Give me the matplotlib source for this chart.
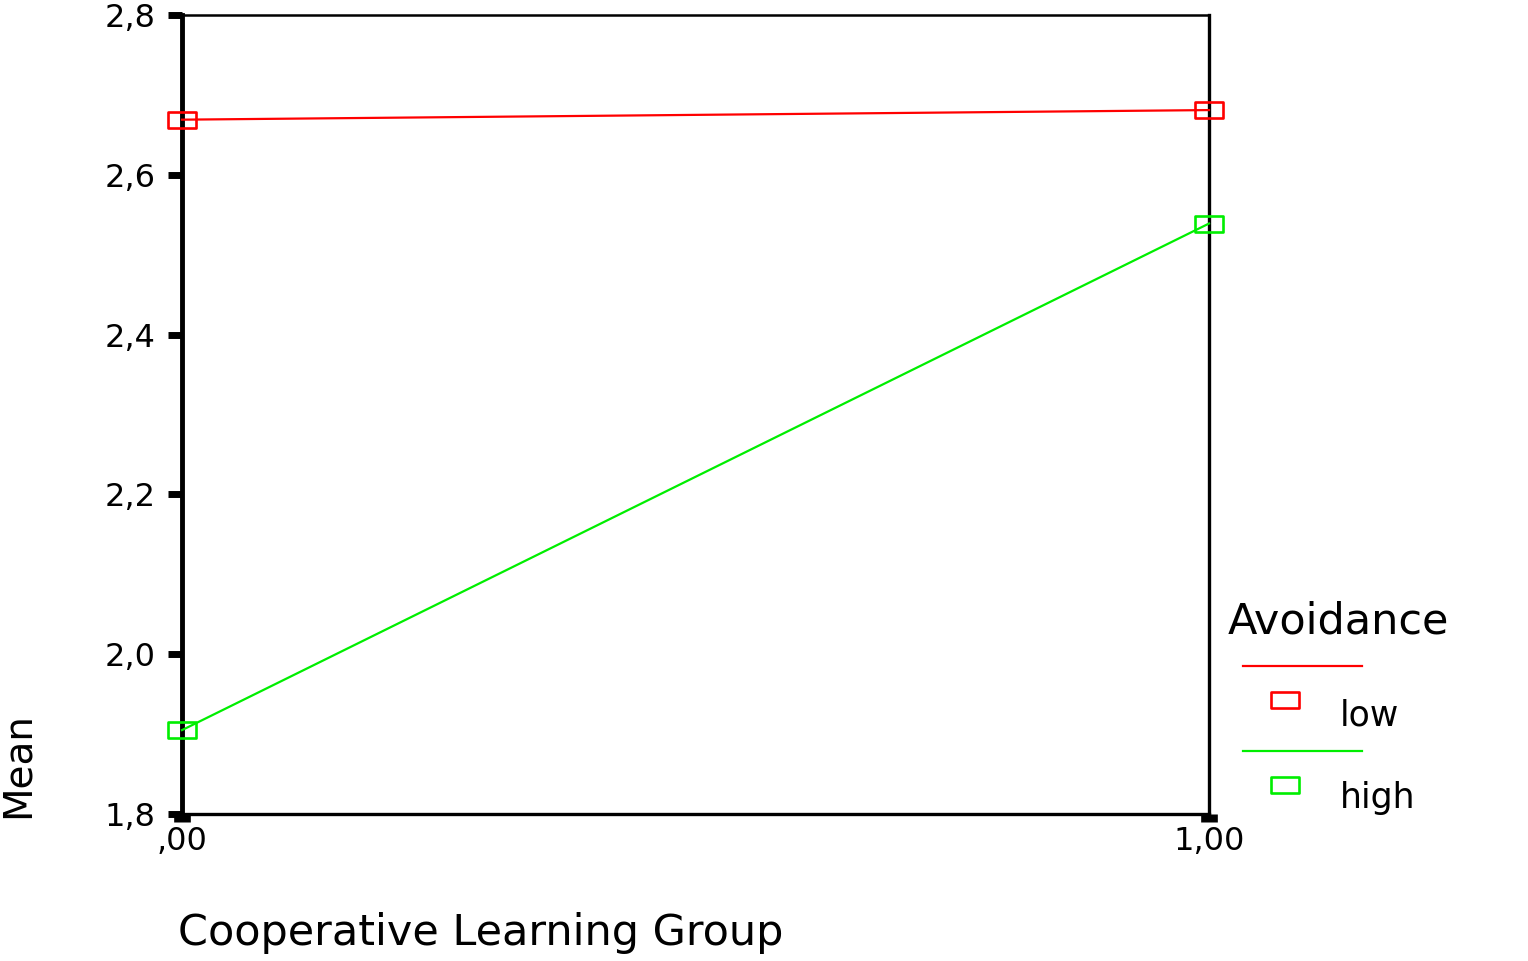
import matplotlib
matplotlib.use('Agg')
import matplotlib.pyplot as plt
from matplotlib.path import Path
from matplotlib.lines import Line2D

# estimated marginal means
GROUPS = [0.0, 1.0]
GROUP_LABELS = [',00', '1,00']
LOW = [2.669, 2.681]
HIGH = [1.905, 2.539]
Y_TICKS = [1.8, 2.0, 2.2, 2.4, 2.6, 2.8]
Y_TICK_LABELS = ['1,8', '2,0', '2,2', '2,4', '2,6', '2,8']
SERIES = [('low', LOW, '#ff0000'), ('high', HIGH, '#00ee00')]

plt.rcParams['font.family'] = 'DejaVu Sans'

# wide flat box marker like the SPSS output
box = Path([(-1, -0.55), (1, -0.55), (1, 0.55), (-1, 0.55), (-1, -0.55)],
           [Path.MOVETO, Path.LINETO, Path.LINETO, Path.LINETO, Path.CLOSEPOLY])

fig = plt.figure(figsize=(15.28, 9.61), dpi=100)
ax = fig.add_axes([182/1528, 1 - 814/961, (1209-182)/1528, (814-15)/961])

for name, vals, col in SERIES:
    ax.plot(GROUPS, vals, color=col, linewidth=1.6, marker=box, markersize=20,
            markerfacecolor='none', markeredgecolor=col, markeredgewidth=1.9,
            clip_on=False, zorder=3)

ax.set_xlim(0, 1)
ax.set_ylim(1.8, 2.8)
ax.set_xticks(GROUPS)
ax.set_xticklabels(GROUP_LABELS, fontsize=23)
ax.set_yticks(Y_TICKS)
ax.set_yticklabels(Y_TICK_LABELS, fontsize=23)
ax.tick_params(axis='y', direction='out', length=10, width=5, pad=9)
ax.tick_params(axis='x', direction='out', length=6, width=12, pad=3)

ax.spines['left'].set_linewidth(3.5)
ax.spines['top'].set_linewidth(1.8)
ax.spines['right'].set_linewidth(2.4)
ax.spines['bottom'].set_linewidth(2.4)

fig.text(178/1528, 1 - 933/961, 'Cooperative Learning Group', fontsize=31,
         ha='left', va='center')
fig.text(18/1528, 1 - 765/961, 'Mean', rotation=90, fontsize=28,
         ha='center', va='center')

# legend drawn by hand: line on top, box + label underneath
fig.text(1228/1528, 1 - 622/961, 'Avoidance', fontsize=31, va='center', ha='left')
rows = [(666, 700, 716), (751, 785, 798)]
for (name, vals, col), (ly, my, ty) in zip(SERIES, rows):
    fig.add_artist(Line2D([1243/1528, 1362/1528], [1 - ly/961, 1 - ly/961],
                          transform=fig.transFigure, color=col, linewidth=1.6))
    fig.add_artist(Line2D([1285/1528], [1 - my/961], transform=fig.transFigure,
                          marker=box, markersize=20, markerfacecolor='none',
                          markeredgecolor=col, markeredgewidth=1.9))
    fig.text(1340/1528, 1 - ty/961, name, fontsize=25, va='center', ha='left')

fig.savefig('out.png', dpi=100)
